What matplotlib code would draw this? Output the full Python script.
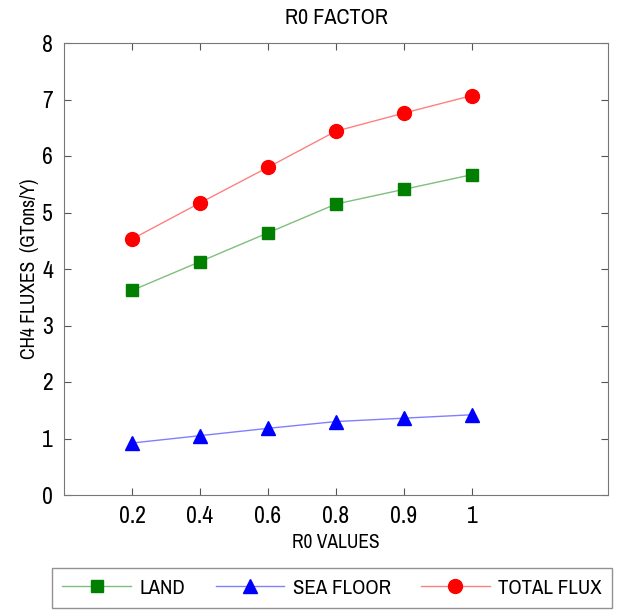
import matplotlib
matplotlib.use('Agg')
import matplotlib.pyplot as plt
from matplotlib import font_manager

# data
r0_labels = ['0.2', '0.4', '0.6', '0.8', '0.9', '1']
land = [3.62, 4.13, 4.64, 5.15, 5.41, 5.67]
sea_floor = [0.92, 1.05, 1.18, 1.30, 1.36, 1.42]
total_flux = [4.53, 5.17, 5.80, 6.44, 6.76, 7.07]

# narrow font if one is installed
names = sorted({f.name for f in font_manager.fontManager.ttflist})
narrow = [n for n in names if 'Narrow' in n or 'Condensed' in n]
plt.rcParams['font.family'] = narrow[:1] + ['DejaVu Sans']

fig = plt.figure(figsize=(6.22, 6.12), dpi=100)
ax = fig.add_axes([64 / 622, 1 - 495 / 612, 544 / 622, 452 / 612])

x = list(range(1, len(r0_labels) + 1))

ax.plot(x, land, color='#7fbf7f', lw=1, marker='s', ms=8,
        mfc='#007f00', mec='#007f00', label='LAND')
ax.plot(x, sea_floor, color='#8080ff', lw=1, marker='^', ms=10,
        mfc='#0000ff', mec='#0000ff', label='SEA FLOOR')
ax.plot(x, total_flux, color='#ff8080', lw=1, marker='o', ms=10,
        mfc='#ff0000', mec='#ff0000', label='TOTAL FLUX')

ax.set_xlim(0, 8)
ax.set_ylim(0, 8)
ax.set_xticks(x)
ax.set_xticklabels(r0_labels)
ax.set_yticks(range(0, 9))

ax.tick_params(direction='in', top=True, right=True, labelsize=17,
               color='#555555', length=5, pad=8)
for s in ax.spines.values():
    s.set_color('#777777')

ax.set_title('R0 FACTOR', fontsize=16, pad=14)
ax.set_xlabel('R0 VALUES', fontsize=14, labelpad=4)
ax.set_ylabel('CH4 FLUXES  (GTons/Y)', fontsize=14, labelpad=2)

leg = fig.legend(loc='center', bbox_to_anchor=(52 / 622, 1 - 608 / 612, 560 / 622, 40 / 612),
                 mode='expand', ncol=3, fontsize=15, handlelength=3.3,
                 handletextpad=0.4, borderaxespad=0, frameon=True,
                 fancybox=False, edgecolor='#777777', borderpad=0.5)
leg.get_frame().set_linewidth(1)

fig.savefig('out.png', dpi=100)
